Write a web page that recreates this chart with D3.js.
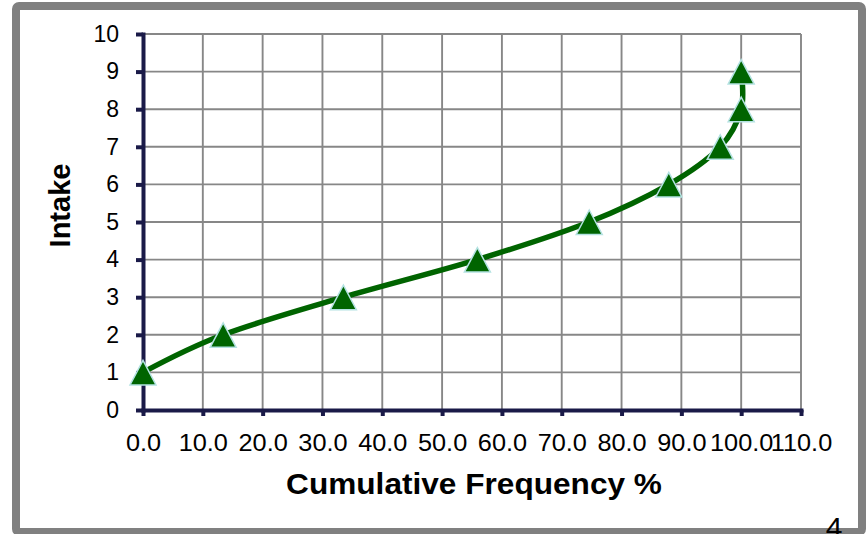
<!DOCTYPE html>
<html>
<head>
<meta charset="utf-8">
<script src="https://cdn.jsdelivr.net/npm/d3@7"></script>
<style>
  html, body { margin: 0; padding: 0; background: #ffffff; }
  svg { display: block; }
  text { font-family: "Liberation Sans", Arial, sans-serif; fill: #000; }
</style>
</head>
<body>
<svg id="chart" width="868" height="534"></svg>
<script>
// Cumulative frequency (%) of each intake level
const cumulativeFrequency = [0.0, 13.4, 33.5, 55.9, 74.6, 87.9, 96.5, 100.0, 100.0];
const intake = [1, 2, 3, 4, 5, 6, 7, 8, 9];

const xTicks = [0, 10, 20, 30, 40, 50, 60, 70, 80, 90, 100, 110];
const yTicks = [0, 1, 2, 3, 4, 5, 6, 7, 8, 9, 10];
const xTitle = "Cumulative Frequency %";
const yTitle = "Intake";
const pageNumber = "4";

const svg = d3.select("#chart");
const plot = { left: 143, right: 801, top: 34, bottom: 410 };

const x = d3.scaleLinear().domain([0, 110]).range([plot.left, plot.right]);
const y = d3.scaleLinear().domain([0, 10]).range([plot.bottom, plot.top]);

// outer frame
svg.append("rect")
  .attr("x", 16).attr("y", 6)
  .attr("width", 846).attr("height", 526)
  .attr("rx", 3)
  .attr("fill", "#ffffff")
  .attr("stroke", "#808080")
  .attr("stroke-width", 8);

// gridlines
const grid = svg.append("g").attr("stroke", "#878787").attr("stroke-width", 1.9);
grid.selectAll("line.v").data(xTicks.filter(d => d > 0)).join("line")
  .attr("x1", d => x(d)).attr("x2", d => x(d))
  .attr("y1", y(0)).attr("y2", y(10));
grid.selectAll("line.h").data(yTicks.filter(d => d > 0)).join("line")
  .attr("x1", x(0)).attr("x2", x(110))
  .attr("y1", d => y(d)).attr("y2", d => y(d));

const axisColor = "#1a1a48";

// x axis
const xAxis = svg.append("g")
  .attr("transform", `translate(0,${plot.bottom})`)
  .call(d3.axisBottom(x).tickValues(xTicks).tickFormat(d3.format(".1f"))
    .tickSize(6).tickSizeOuter(0).tickPadding(19));
xAxis.select(".domain").attr("stroke", axisColor).attr("stroke-width", 4)
  .attr("stroke-linecap", "square");
xAxis.selectAll(".tick line").attr("stroke", axisColor).attr("stroke-width", 4);
xAxis.selectAll(".tick text")
  .attr("font-size", 23)
  .attr("font-family", "'Liberation Sans', Arial, sans-serif")
  .attr("fill", "#000")
  .attr("transform", "scale(1.1,1)");

// y axis
const yAxis = svg.append("g")
  .attr("transform", `translate(${plot.left},0)`)
  .call(d3.axisLeft(y).tickValues(yTicks).tickFormat(d3.format("d"))
    .tickSize(7).tickSizeOuter(0).tickPadding(17));
yAxis.select(".domain").attr("stroke", axisColor).attr("stroke-width", 4)
  .attr("stroke-linecap", "square");
yAxis.selectAll(".tick line").attr("stroke", axisColor).attr("stroke-width", 4);
yAxis.selectAll(".tick text")
  .attr("font-size", 23)
  .attr("font-family", "'Liberation Sans', Arial, sans-serif")
  .attr("fill", "#000");

// axis titles
svg.append("text")
  .attr("transform", `translate(${(plot.left + plot.right) / 2 + 2},494) scale(1.09,1)`)
  .attr("text-anchor", "middle")
  .attr("font-size", 29)
  .attr("font-weight", "bold")
  .text(xTitle);

svg.append("text")
  .attr("transform", "translate(70,205.5) rotate(-90)")
  .attr("text-anchor", "middle")
  .attr("font-size", 29)
  .attr("font-weight", "bold")
  .text(yTitle);

// smoothed curve
const pts = cumulativeFrequency.map((c, i) => [c, intake[i]]);
const line = d3.line()
  .x(d => x(d[0]))
  .y(d => y(d[1]))
  .curve(d3.curveCatmullRom.alpha(0));

svg.append("path")
  .datum(pts)
  .attr("d", line)
  .attr("fill", "none")
  .attr("stroke", "#006400")
  .attr("stroke-width", 5.5)
  .attr("stroke-linejoin", "round");

// triangle markers
const tri = "M0,-12.5L13,12L-13,12Z";
svg.append("g").selectAll("path").data(pts).join("path")
  .attr("d", tri)
  .attr("transform", d => `translate(${x(d[0])},${y(d[1]) + 0.5})`)
  .attr("fill", "#006400")
  .attr("stroke", "#b4e2e2")
  .attr("stroke-width", 1.5)
  .attr("stroke-linejoin", "miter");

// page number, partly below the bottom edge
svg.append("text")
  .attr("x", 834).attr("y", 538)
  .attr("text-anchor", "middle")
  .attr("font-size", 30)
  .text(pageNumber);
</script>
</body>
</html>
